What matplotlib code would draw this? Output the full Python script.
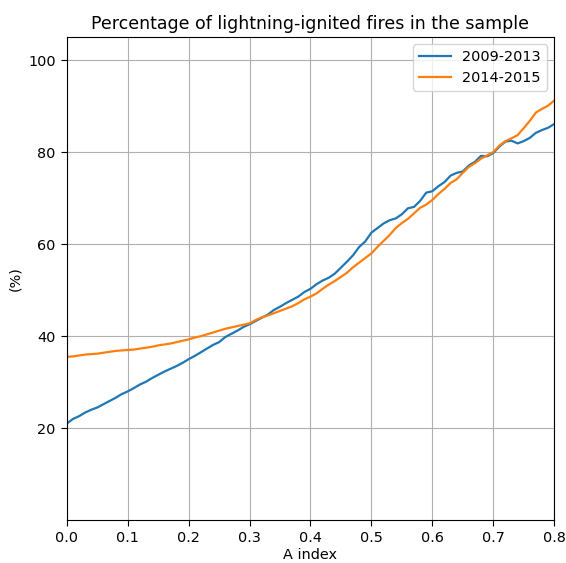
import numpy as np
import matplotlib
matplotlib.use("Agg")
import matplotlib.pyplot as plt

# A index from 0 to 0.8 in steps of 0.01
a_index = np.round(np.arange(0, 0.801, 0.01), 2)

pct_2009_2013 = [
    21.0, 22.0, 22.6, 23.4, 24.0, 24.5, 25.2, 25.9, 26.6, 27.4,
    28.0, 28.7, 29.5, 30.1, 30.9, 31.6, 32.3, 32.9, 33.5, 34.2,
    35.0, 35.7, 36.5, 37.3, 38.1, 38.7, 39.8, 40.5, 41.2, 42.0,
    42.6, 43.3, 44.0, 44.7, 45.7, 46.4, 47.2, 47.9, 48.6, 49.6,
    50.3, 51.3, 52.1, 52.7, 53.6, 54.9, 56.2, 57.6, 59.4, 60.6,
    62.5, 63.5, 64.5, 65.2, 65.6, 66.5, 67.8, 68.1, 69.4, 71.2,
    71.5, 72.6, 73.5, 74.9, 75.5, 75.8, 77.1, 77.9, 79.2, 79.1,
    79.8, 81.2, 82.3, 82.5, 81.9, 82.4, 83.1, 84.2, 84.8, 85.3,
    86.1,
]

pct_2014_2015 = [
    35.5, 35.6, 35.8, 36.0, 36.1, 36.2, 36.4, 36.6, 36.8, 36.9,
    37.0, 37.1, 37.3, 37.5, 37.7, 38.0, 38.2, 38.4, 38.7, 39.0,
    39.3, 39.7, 40.0, 40.4, 40.8, 41.2, 41.6, 41.9, 42.2, 42.5,
    42.8, 43.5, 44.1, 44.5, 45.0, 45.5, 46.0, 46.5, 47.2, 48.0,
    48.6, 49.3, 50.3, 51.2, 52.0, 52.9, 53.8, 55.0, 56.0, 57.0,
    58.0, 59.4, 60.7, 62.0, 63.5, 64.6, 65.5, 66.7, 67.9, 68.6,
    69.6, 70.9, 72.0, 73.3, 74.1, 75.5, 76.8, 77.6, 78.6, 79.3,
    80.0, 81.4, 82.4, 83.0, 83.7, 85.2, 86.8, 88.6, 89.4, 90.1,
    91.2,
]


def main():
    plt.rcParams["font.size"] = 10.4
    plt.rcParams["xtick.major.size"] = 4.5
    plt.rcParams["ytick.major.size"] = 4.5
    plt.rcParams["legend.handlelength"] = 2.2

    fig = plt.figure(figsize=(5.66, 5.63), dpi=100)
    ax = fig.add_axes([0.118, 0.076, 0.861, 0.858])

    ax.plot(a_index, pct_2009_2013, label="2009-2013", color="#1f77b4", lw=1.6)
    ax.plot(a_index, pct_2014_2015, label="2014-2015", color="#ff7f0e", lw=1.6)

    ax.set_xlim(0, 0.8)
    ax.set_ylim(0, 105)
    ax.set_yticks([20, 40, 60, 80, 100])
    ax.set_xticks(np.arange(0, 0.81, 0.1))
    ax.grid(True, color="#b0b0b0", lw=0.8)
    ax.set_title("Percentage of lightning-ignited fires in the sample")
    ax.set_xlabel("A index", labelpad=2)
    ax.set_ylabel("(%)")
    ax.legend(loc="upper right")

    fig.savefig("out.png", dpi=100)


if __name__ == "__main__":
    main()
